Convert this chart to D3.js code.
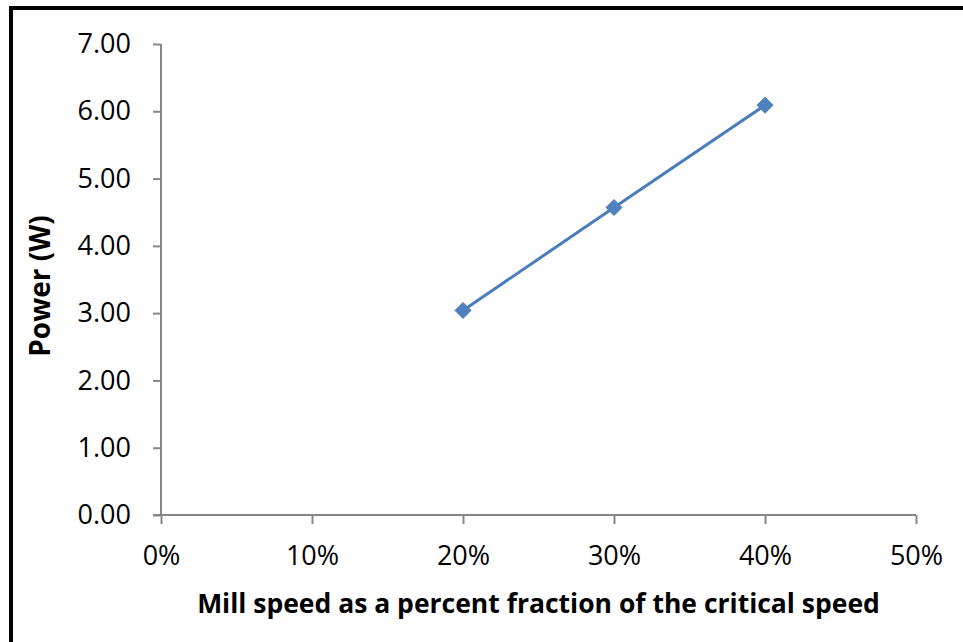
<!DOCTYPE html>
<html>
<head>
<meta charset="utf-8">
<script src="https://cdn.jsdelivr.net/npm/d3@7"></script>
<style>
  html, body { margin: 0; padding: 0; background: #fff; }
  svg { display: block; }
  text { font-family: "Open Sans", "Noto Sans", sans-serif; fill: #000; }
</style>
</head>
<body>
<svg id="chart" width="963" height="642"></svg>
<script>
// Mill speed (fraction of critical speed) and measured power
const speedFraction = [0.20, 0.30, 0.40];
const powerW = [3.04, 4.57, 6.09];
const xTicks = [0, 0.1, 0.2, 0.3, 0.4, 0.5];
const yTicks = [0, 1, 2, 3, 4, 5, 6, 7];
const xTitle = "Mill speed as a percent fraction of the critical speed";
const yTitle = "Power (W)";

const svg = d3.select("#chart");
const W = 963, H = 642;
const plot = { left: 161, right: 916, top: 44, bottom: 515 };

const x = d3.scaleLinear().domain([0, 0.5]).range([plot.left, plot.right]);
const y = d3.scaleLinear().domain([0, 7]).range([plot.bottom, plot.top]);

svg.append("rect").attr("width", W).attr("height", H).attr("fill", "#fff");

// outer frame
svg.append("rect")
  .attr("x", 11).attr("y", 8)
  .attr("width", W + 20).attr("height", H + 20)
  .attr("fill", "none").attr("stroke", "#000").attr("stroke-width", 4);

const axisColor = "#868686";
const tickFont = "27px";

// y axis
const yAxis = svg.append("g")
  .attr("transform", `translate(${plot.left},0)`)
  .call(d3.axisLeft(y).tickValues(yTicks).tickSize(8).tickPadding(22)
    .tickFormat(d => d3.format(".2f")(d)));
yAxis.selectAll("path, line").attr("stroke", axisColor).attr("stroke-width", 2);
yAxis.select(".domain").attr("d", `M0,${plot.top}V${plot.bottom}`);
yAxis.selectAll("text")
  .style("font-family", '"Open Sans", sans-serif')
  .style("font-size", tickFont).attr("fill", "#000");

// x axis
const xAxis = svg.append("g")
  .attr("transform", `translate(0,${plot.bottom})`)
  .call(d3.axisBottom(x).tickValues(xTicks).tickSize(9).tickPadding(22)
    .tickFormat(d3.format(".0%")));
xAxis.selectAll("path, line").attr("stroke", axisColor).attr("stroke-width", 2);
xAxis.select(".domain").attr("d", `M${plot.left - 8},0H${plot.right}`);
xAxis.selectAll("text")
  .style("font-family", '"Open Sans", sans-serif')
  .style("font-size", tickFont).attr("fill", "#000");

// data line
const pts = speedFraction.map((s, i) => [s, powerW[i]]);
svg.append("path")
  .datum(pts)
  .attr("fill", "none")
  .attr("stroke", "#4A7EBB")
  .attr("stroke-width", 3)
  .attr("d", d3.line().x(d => x(d[0])).y(d => y(d[1])));

// diamond markers
svg.selectAll(".marker")
  .data(pts)
  .join("path")
  .attr("class", "marker")
  .attr("transform", d => `translate(${x(d[0])},${y(d[1])})`)
  .attr("d", "M0,-8L8,0L0,8L-8,0Z")
  .attr("fill", "#4F81BD")
  .attr("stroke", "#4A7EBB")
  .attr("stroke-width", 1);

// axis titles
svg.append("text")
  .attr("x", (plot.left + plot.right) / 2)
  .attr("y", 613)
  .attr("text-anchor", "middle")
  .style("font-size", "26.5px")
  .style("font-weight", "bold")
  .text(xTitle);

svg.append("text")
  .attr("transform", `translate(50,286) rotate(-90)`)
  .attr("text-anchor", "middle")
  .style("font-size", "28px")
  .style("font-weight", "bold")
  .text(yTitle);
</script>
</body>
</html>
